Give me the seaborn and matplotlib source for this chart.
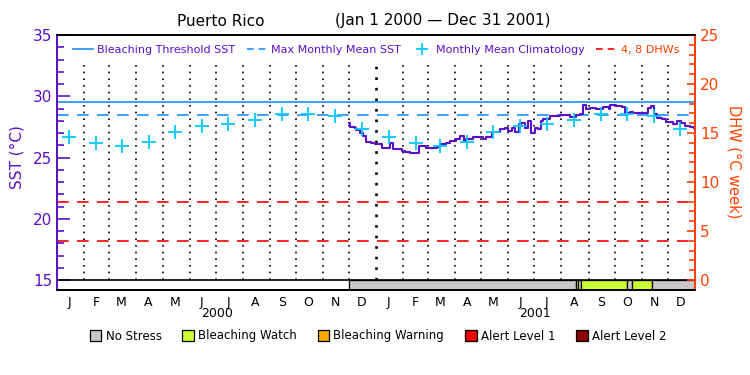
import matplotlib
matplotlib.use('Agg')
from matplotlib import pyplot as plt
from matplotlib.lines import Line2D
from matplotlib.patches import Patch
import matplotlib.dates as mdates
import matplotlib.transforms as mtransforms
import pandas as pd
import seaborn as sns

# daily SST, deg C
sst_dates = ['2000-11-30', '2000-12-02', '2000-12-07', '2000-12-09', '2000-12-13', '2000-12-17',
             '2000-12-20', '2000-12-26', '2000-12-30', '2001-01-05', '2001-01-07', '2001-01-13',
             '2001-01-16', '2001-01-20', '2001-01-30', '2001-02-03', '2001-02-08', '2001-02-18',
             '2001-02-19', '2001-02-27', '2001-03-11', '2001-03-15', '2001-03-22', '2001-03-26',
             '2001-04-02', '2001-04-07', '2001-04-11', '2001-04-14', '2001-04-22', '2001-05-03',
             '2001-05-07', '2001-05-13', '2001-05-23', '2001-05-28', '2001-06-01', '2001-06-05',
             '2001-06-09', '2001-06-13', '2001-06-16', '2001-06-20', '2001-06-24', '2001-06-27',
             '2001-07-02', '2001-07-05', '2001-07-09', '2001-07-11', '2001-07-19', '2001-07-30',
             '2001-08-11', '2001-08-18', '2001-08-22', '2001-08-26', '2001-08-29', '2001-09-03',
             '2001-09-10', '2001-09-18', '2001-09-24', '2001-09-26', '2001-10-03', '2001-10-09',
             '2001-10-13', '2001-10-18', '2001-10-22', '2001-10-30', '2001-11-05', '2001-11-08',
             '2001-11-12', '2001-11-15', '2001-11-18', '2001-11-24', '2001-11-29', '2001-12-07',
             '2001-12-11', '2001-12-16', '2001-12-20', '2001-12-26', '2001-12-31']
sst_values = [27.80, 27.45, 27.43, 27.25, 27.00, 26.75,
              26.30, 26.20, 26.07, 26.07, 25.75, 25.75,
              26.20, 25.66, 25.52, 25.46, 25.39, 25.38,
              25.93, 25.80, 25.85, 26.12, 26.20, 26.34,
              26.53, 26.75, 26.34, 26.48, 26.67, 26.53,
              26.69, 27.10, 27.30, 27.43, 27.16, 27.43,
              27.07, 27.70, 27.79, 27.43, 27.98, 27.02,
              27.43, 27.30, 27.98, 28.11, 28.39, 28.47,
              28.33, 28.44, 28.52, 29.26, 28.93, 29.07,
              28.99, 29.16, 28.99, 29.26, 29.20, 29.16,
              28.66, 28.71, 28.61, 28.66, 28.61, 29.07,
              29.20, 28.52, 28.25, 28.11, 27.89, 27.70,
              27.98, 27.84, 27.57, 27.52, 27.43]

# monthly mean climatology Jan..Dec
clim_values = [26.7, 26.15, 25.9, 26.3, 27.1, 27.55, 27.7, 28.1, 28.55, 28.55, 28.35, 27.35]
years = [2000, 2001]
month_letters = ['J', 'F', 'M', 'A', 'M', 'J', 'J', 'A', 'S', 'O', 'N', 'D']

mmm = 28.5
bleaching_threshold = 29.5
dhw_levels = [4, 8]

# bleaching alert status periods
status_starts = ['2000-11-30', '2001-08-18', '2001-08-20', '2001-08-23', '2001-10-15', '2001-10-21', '2001-11-13']
status_ends = ['2001-08-18', '2001-08-20', '2001-08-23', '2001-10-15', '2001-10-21', '2001-11-13', '2002-01-01']
status_levels = ['No Stress', 'Bleaching Watch', 'No Stress', 'Bleaching Watch', 'No Stress',
                 'Bleaching Watch', 'No Stress']
status_colors = {'No Stress': '#c8c8c8', 'Bleaching Watch': '#ccff33', 'Bleaching Warning': '#ffaa00',
                 'Alert Level 1': '#ee0000', 'Alert Level 2': '#900000'}

purple = '#5a10c8'
orange = '#ff4000'
blue = '#1e90ff'
cyan = '#00c8ff'

fig = plt.figure(figsize=(7.5, 3.75), dpi=100)
ax = fig.add_axes([57 / 750, 85 / 375, 638 / 750, 255 / 375])
ylo = 15 - 10 / 12.25

sns.lineplot(x=pd.to_datetime(sst_dates), y=sst_values, ax=ax, color=purple, lw=1.5,
             drawstyle='steps-post', zorder=4)

clim_x = [pd.Timestamp(y, m + 1, 15) for y in years for m in range(12)]
sns.scatterplot(x=clim_x, y=clim_values * len(years), ax=ax, marker='+', s=90,
                color=cyan, linewidth=1.3, zorder=5)

ax.axhline(bleaching_threshold, color=blue, lw=1.2)
ax.axhline(mmm, color=blue, lw=1.2, dashes=(7, 5))

# month boundaries (dotted, stopping below the legend row)
month_starts = pd.date_range('2000-01-01', '2002-01-01', freq='MS')
for d in month_starts[1:-1]:
    lw = 1.9 if d.month == 1 else 1.2
    ax.vlines(d, 15, 33, colors='k', lw=lw, linestyles=(0, (1, 3)))

# status bar
for s, e, lvl in zip(status_starts, status_ends, status_levels):
    x0 = mdates.date2num(pd.Timestamp(s))
    x1 = mdates.date2num(pd.Timestamp(e))
    ax.broken_barh([(x0, x1 - x0)], (ylo, 15 - ylo), facecolors=status_colors[lvl],
                   edgecolor='k', lw=0.9, zorder=2)
ax.axhline(15, color='k', lw=1.2, zorder=3)

ax.set_xlim(pd.Timestamp('2000-01-01'), pd.Timestamp('2002-01-01'))
ax.set_ylim(ylo, 35)
ax.set_xticks(month_starts, labels=[''] * len(month_starts))
ax.set_xticks(clim_x, labels=month_letters * len(years), minor=True)
ax.tick_params(axis='x', which='both', length=0, labelsize=9, pad=4)
ax.set_yticks(range(15, 36, 5))
ax.set_yticks(range(15, 36), minor=True)
ax.tick_params(axis='y', which='major', direction='in', length=9.5, width=1.2, colors=purple, labelsize=11)
ax.tick_params(axis='y', which='minor', direction='in', length=5, width=1.2, colors=purple)
ax.set_xlabel('')
ax.set_ylabel('')

ax2 = ax.twinx()
ax2.set_ylim((ylo - 15) * 1.25, 25)
for lvl in dhw_levels:
    ax2.axhline(lvl, color='#ff0000', lw=1.2, dashes=(7, 5))
ax2.set_yticks(range(0, 26, 5))
ax2.set_yticks(range(0, 26), minor=True)
ax2.tick_params(axis='y', which='major', direction='in', length=6, width=1.2, colors=orange, labelsize=11)
ax2.tick_params(axis='y', which='minor', direction='in', length=4, width=1.2, colors=orange)
for a in (ax, ax2):
    a.spines['left'].set_color(purple)
    a.spines['right'].set_color(orange)
    a.spines['top'].set_color('k')
    a.spines['bottom'].set_color('k')
    for sp in a.spines.values():
        sp.set_linewidth(1.3)

# year labels
trans = mtransforms.blended_transform_factory(ax.transData, ax.transAxes)
for y in years:
    ax.text(pd.Timestamp(y, 7, 2), -0.094, str(y), transform=trans, ha='center', va='center', fontsize=9)

# top legend
handles = [Line2D([], [], color=blue, lw=1.2),
           Line2D([], [], color=blue, lw=1.2, dashes=(4, 3)),
           Line2D([], [], color=cyan, lw=0, marker='+', markersize=8, markeredgewidth=1.3),
           Line2D([], [], color='#ff0000', lw=1.2, dashes=(4, 3))]
labels = ['Bleaching Threshold SST', 'Max Monthly Mean SST', 'Monthly Mean Climatology', '4, 8 DHWs']
leg = ax2.legend(handles, labels, loc='center', bbox_to_anchor=(0.5, 0.941), ncol=4, frameon=False,
                 fontsize=8, handlelength=1.8, handletextpad=0.4, columnspacing=1.0)
for t, c in zip(leg.get_texts(), [purple, purple, purple, orange]):
    t.set_color(c)

# status legend
shandles = [Patch(facecolor=c, edgecolor='k', lw=0.9) for c in status_colors.values()]
fig.legend(shandles, list(status_colors.keys()), loc='center', bbox_to_anchor=(378 / 750, 1 - 336 / 375),
           ncol=5, frameon=False, fontsize=8.5, handlelength=1.0, handleheight=1.0,
           handletextpad=0.35, columnspacing=1.75)

fig.text(17 / 750, 1 - 157 / 375, 'SST (°C)', rotation=90, color=purple, fontsize=11, ha='center', va='center')
fig.text(734 / 750, 1 - 162 / 375, 'DHW (°C week)', rotation=-90, color=orange, fontsize=10.5,
         ha='center', va='center')
fig.text(221 / 750, 1 - 21 / 375, 'Puerto Rico', fontsize=11, ha='center', va='center')
fig.text(443 / 750, 1 - 21 / 375, '(Jan 1 2000 \u2014 Dec 31 2001)', fontsize=11, ha='center', va='center')

fig.savefig('out.png', dpi=100)
